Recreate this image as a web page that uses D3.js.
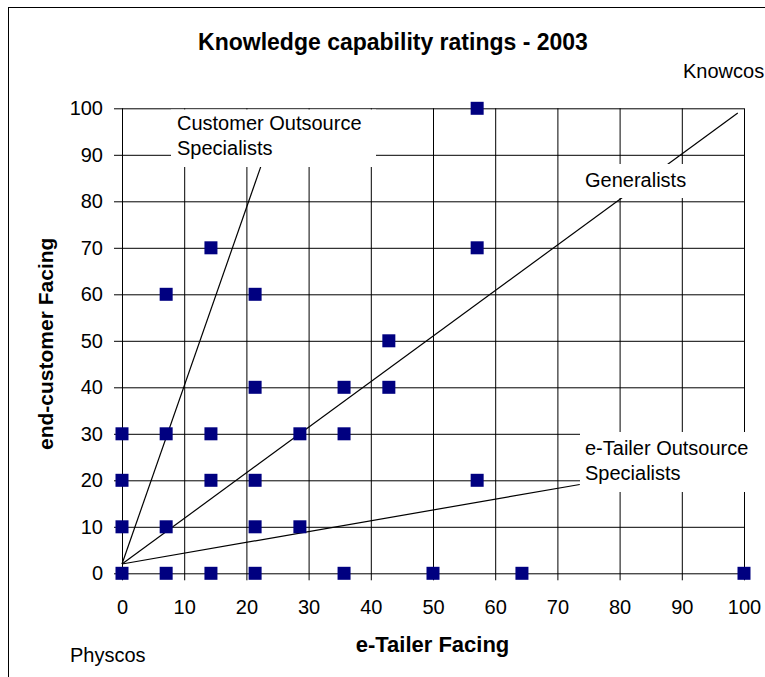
<!DOCTYPE html>
<html>
<head>
<meta charset="utf-8">
<script src="https://cdn.jsdelivr.net/npm/d3@7"></script>
<style>
  html, body { margin: 0; padding: 0; background: #fff; }
  svg { display: block; font-family: "Liberation Sans", Arial, sans-serif; }
</style>
</head>
<body>
<svg id="chart" width="765" height="677"></svg>
<script>
// ---- data ----
const titleText = "Knowledge capability ratings - 2003";
const xTitle = "e-Tailer Facing";
const yTitle = "end-customer Facing";
const xTicks = [0, 10, 20, 30, 40, 50, 60, 70, 80, 90, 100];
const yTicks = [0, 10, 20, 30, 40, 50, 60, 70, 80, 90, 100];

const pointX = [57.1, 14.3, 57.1, 7.1, 21.4, 42.9, 21.4, 35.7, 42.9,
                0, 7.1, 14.3, 28.6, 35.7, 0, 14.3, 21.4, 57.1,
                0, 7.1, 21.4, 28.6, 0, 7.1, 14.3, 21.4, 35.7, 50, 64.3, 100];
const pointY = [100, 70, 70, 60, 60, 50, 40, 40, 40,
                30, 30, 30, 30, 30, 20, 20, 20, 20,
                10, 10, 10, 10, 0, 0, 0, 0, 0, 0, 0, 0];

// reference lines from near the origin
const lineNames = ["Customer Outsource Specialists", "Generalists", "e-Tailer Outsource Specialists"];
const lineStartX = [0, 0, 0];
const lineStartY = [2, 2, 2];
const lineEndX = [22.3, 99, 73.6];
const lineEndY = [87.4, 99, 19.1];

const cornerTop = "Knowcos";
const cornerBottom = "Physcos";

// ---- drawing ----
const svg = d3.select("#chart");
const x = d3.scaleLinear().domain([0, 100]).range([122, 744]);
const y = d3.scaleLinear().domain([0, 100]).range([573.3, 108.3]);
const plotW = x(100) - x(0), plotH = y(0) - y(100);

// outer chart border
svg.append("rect").attr("x", 8.5).attr("y", 7.5).attr("width", 800).attr("height", 700)
  .attr("fill", "#fff").attr("stroke", "#000").attr("stroke-width", 1);

// title
svg.append("text").attr("x", 393).attr("y", 50).attr("text-anchor", "middle")
  .attr("font-size", 23).attr("font-weight", "bold").text(titleText);

// grid + x axis
const gx = svg.append("g").attr("transform", `translate(0,${y(100)})`)
  .call(d3.axisBottom(x).tickValues(xTicks).tickSizeInner(plotH + 7).tickSizeOuter(0).tickPadding(20));
gx.select(".domain").remove();
gx.selectAll(".tick line").attr("stroke", "#000");
gx.selectAll(".tick text").attr("font-size", 20).attr("font-family", "Liberation Sans, Arial, sans-serif").attr("fill", "#000");

const gy = svg.append("g").attr("transform", `translate(${x(100)},0)`)
  .call(d3.axisLeft(y).tickValues(yTicks).tickSizeInner(plotW + 8).tickSizeOuter(0).tickPadding(11));
gy.select(".domain").remove();
gy.selectAll(".tick line").attr("stroke", "#000");
gy.selectAll(".tick text").attr("font-size", 20).attr("font-family", "Liberation Sans, Arial, sans-serif").attr("fill", "#000");

// axis titles
svg.append("text").attr("x", 432.5).attr("y", 652).attr("text-anchor", "middle")
  .attr("font-size", 22).attr("font-weight", "bold").text(xTitle);
svg.append("text").attr("transform", `translate(53,${(y(0) + y(100)) / 2 + 3}) rotate(-90)`)
  .attr("text-anchor", "middle").attr("font-size", 21).attr("font-weight", "bold").text(yTitle);

// reference lines
svg.append("g").selectAll("line").data(lineNames).join("line")
  .attr("x1", (d, i) => x(lineStartX[i])).attr("y1", (d, i) => y(lineStartY[i]))
  .attr("x2", (d, i) => x(lineEndX[i])).attr("y2", (d, i) => y(lineEndY[i]))
  .attr("stroke", "#000").attr("stroke-width", 1.2);

// label boxes
function labelBox(bx, by, bw, bh, lines, tx, baselines) {
  svg.append("rect").attr("x", bx).attr("y", by).attr("width", bw).attr("height", bh).attr("fill", "#fff");
  lines.forEach((t, i) => {
    svg.append("text").attr("x", tx).attr("y", baselines[i]).attr("font-size", 20).text(t);
  });
}
labelBox(171, 109.5, 205, 57.5, ["Customer Outsource", "Specialists"], 177, [130, 155]);
labelBox(580, 164, 113, 34, ["Generalists"], 585, [187]);
labelBox(580, 432, 200, 60, ["e-Tailer Outsource", "Specialists"], 585, [455, 480]);

// markers
const ms = 13;
svg.append("g").selectAll("rect").data(pointX).join("rect")
  .attr("x", (d) => x(d) - ms / 2).attr("y", (d, i) => y(pointY[i]) - ms / 2)
  .attr("width", ms).attr("height", ms).attr("fill", "#000080");

// corner labels
svg.append("text").attr("x", 683).attr("y", 78).attr("font-size", 20).text(cornerTop);
svg.append("text").attr("x", 70).attr("y", 662).attr("font-size", 20).text(cornerBottom);
</script>
</body>
</html>
